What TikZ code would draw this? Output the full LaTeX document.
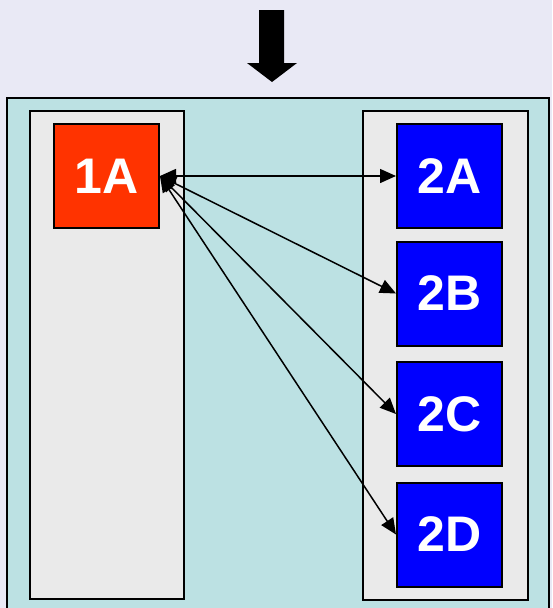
\documentclass[tikz,border=0pt]{standalone}
\usepackage{fontspec}
\setmainfont{Liberation Sans}
\usetikzlibrary{arrows.meta}
\definecolor{bgcol}{HTML}{E9E9F5}
\definecolor{outercol}{HTML}{BCE1E3}
\definecolor{innercol}{HTML}{EAEAEA}
\definecolor{redcol}{HTML}{FF3300}
\definecolor{bluecol}{HTML}{0000FF}
\begin{document}
\begin{tikzpicture}[x=1pt,y=-1pt,
  panel/.style={draw=black,line width=2pt},
  cellbox/.style={draw=black,line width=2pt,minimum width=105pt,minimum height=104pt,inner sep=0pt,
    text=white,font=\fontsize{50}{60}\selectfont\bfseries},
  link/.style={{Triangle[length=16pt,width=14pt]}-{Triangle[length=16pt,width=14pt]},line width=1.5pt}]
\useasboundingbox (0,0) rectangle (552,608);
\fill[bgcol] (0,0) rectangle (552,608);
\draw[panel,fill=outercol] (7,98) rectangle (549,615);
\draw[panel,fill=innercol] (30,111) rectangle (184,599);
\draw[panel,fill=innercol] (363,111) rectangle (528,600);
\fill[black] (259,10) -- (284,10) -- (284,63) -- (297,63) -- (272,82) -- (247,63) -- (259,63) -- cycle;
\node[cellbox,fill=redcol] (a1) at (106.5,176) {1A};
\node[cellbox,fill=bluecol] (a2) at (449.5,176) {2A};
\node[cellbox,fill=bluecol] (b2) at (449.5,293.5) {2B};
\node[cellbox,fill=bluecol] (c2) at (449.5,414) {2C};
\node[cellbox,fill=bluecol] (d2) at (449.5,534.5) {2D};
\draw[link] (a1.east) -- (a2.west);
\draw[link] (a1.east) -- (b2.west);
\draw[link] (a1.east) -- (c2.west);
\draw[link] (a1.east) -- (d2.west);
\end{tikzpicture}
\end{document}
